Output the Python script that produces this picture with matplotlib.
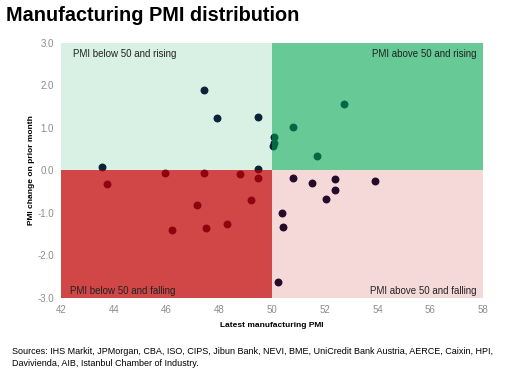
import matplotlib.pyplot as plt
from matplotlib.patches import Rectangle

plt.rcParams['font.family'] = ['Liberation Sans', 'DejaVu Sans']

#%% data
pmi = [43.57, 47.43, 47.93, 49.45, 49.47,
       43.73, 45.94, 47.42, 48.78, 49.47, 47.14, 46.20, 47.48, 48.31, 49.19,
       52.72, 50.78, 50.07, 50.07, 50.02, 51.71,
       50.80, 51.51, 52.40, 53.89, 52.38, 52.04, 50.37, 50.40, 50.22]
change = [0.09, 1.89, 1.24, 1.26, 0.03,
          -0.33, -0.05, -0.05, -0.08, -0.17, -0.81, -1.39, -1.36, -1.27, -0.69,
          1.56, 1.03, 0.78, 0.64, 0.57, 0.35,
          -0.17, -0.30, -0.21, -0.24, -0.47, -0.68, -1.00, -1.34, -2.62]

x_ticks = [42, 44, 46, 48, 50, 52, 54, 56, 58]
y_ticks = [-3, -2, -1, 0, 1, 2, 3]
quadrant_labels = ['PMI below 50 and rising', 'PMI above 50 and rising',
                   'PMI below 50 and falling', 'PMI above 50 and falling']

#%% plot
fig = plt.figure(figsize=(5.09, 3.83), dpi=100)
ax = fig.add_axes([0.12, 0.222, 0.829, 0.666])
ax.set_xlim(42, 58)
ax.set_ylim(-3, 3)

ax.scatter(pmi, change, s=22, color='#0b0d33', zorder=2)

green = '#00a651'
red = '#c00000'
ax.add_patch(Rectangle((42, 0), 8, 3, color=green, alpha=0.15, lw=0, zorder=3))
ax.add_patch(Rectangle((50, 0), 8, 3, color=green, alpha=0.6, lw=0, zorder=3))
ax.add_patch(Rectangle((42, -3), 8, 3, color=red, alpha=0.72, lw=0, zorder=3))
ax.add_patch(Rectangle((50, -3), 8, 3, color=red, alpha=0.15, lw=0, zorder=3))

ax.text(42.45, 2.86, quadrant_labels[0], fontsize=7, va='top', ha='left', color='#222222', zorder=4)
ax.text(57.75, 2.86, quadrant_labels[1], fontsize=7, va='top', ha='right', color='#222222', zorder=4)
ax.text(42.35, -2.95, quadrant_labels[2], fontsize=7, va='bottom', ha='left', color='#222222', zorder=4)
ax.text(57.75, -2.95, quadrant_labels[3], fontsize=7, va='bottom', ha='right', color='#222222', zorder=4)

ax.set_xticks(x_ticks)
ax.set_xticklabels([str(t) for t in x_ticks])
ax.set_yticks(y_ticks)
ax.set_yticklabels([f'{t:.1f}' for t in y_ticks])
ax.tick_params(length=0, labelsize=7, labelcolor='#8c8c8c', pad=5)
for s in ax.spines.values():
    s.set_visible(False)

ax.set_xlabel('Latest manufacturing PMI', fontsize=6, fontweight='bold', labelpad=5)
ax.set_ylabel('PMI change on prior month', fontsize=6, fontweight='bold', labelpad=2)

fig.text(0.012, 0.96, 'Manufacturing PMI distribution', fontsize=14.3, fontweight='bold', va='center')
fig.text(0.023, 0.067, 'Sources: IHS Markit, JPMorgan, CBA, ISO, CIPS, Jibun Bank, NEVI, BME, UniCredit Bank Austria, AERCE, Caixin, HPI,\n'
         'Davivienda, AIB, Istanbul Chamber of Industry.', fontsize=6.5, va='center', linespacing=1.45)

plt.savefig('out.png', dpi=100)
